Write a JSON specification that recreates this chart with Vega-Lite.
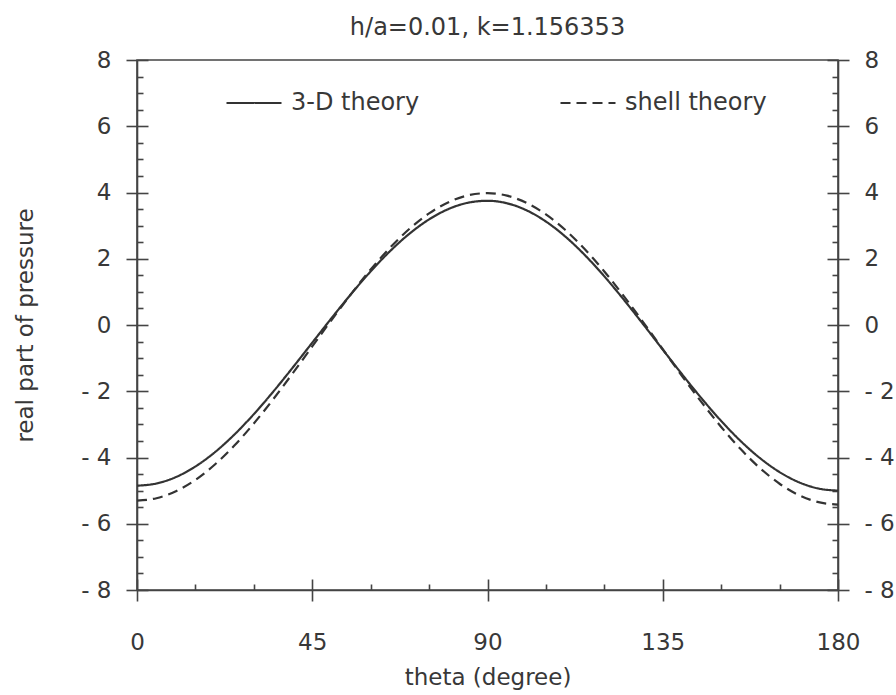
{
  "$schema": "https://vega.github.io/schema/vega-lite/v6.json",
  "autosize": {"type": "none"},
  "padding": {"left": 137, "top": 60, "right": 58, "bottom": 105},
  "width": 701,
  "height": 530,
  "background": "white",
  "title": {"text": "h/a=0.01, k=1.156353", "font": "DejaVu Sans", "fontSize": 24, "fontWeight": "normal", "color": "#383838", "anchor": "middle", "frame": "group", "baseline": "alphabetic", "offset": -10},
  "config": {
    "view": {"stroke": "#444", "strokeWidth": 1.6},
    "axis": {"labelFont": "DejaVu Sans", "titleFont": "DejaVu Sans", "labelColor": "#383838", "titleColor": "#383838", "domainColor": "#444", "tickColor": "#444", "domainWidth": 1.6, "tickWidth": 1.6, "grid": false, "titleFontWeight": "normal", "labelFontSize": 23, "titleFontSize": 23, "labelFlush": false, "labelOverlap": false}
  },
  "data": {"values": [
    {"theta": 0, "pressure": -4.85, "series": "3-D theory"},
    {"theta": 5, "pressure": -4.784, "series": "3-D theory"},
    {"theta": 10, "pressure": -4.59, "series": "3-D theory"},
    {"theta": 15, "pressure": -4.271, "series": "3-D theory"},
    {"theta": 20, "pressure": -3.84, "series": "3-D theory"},
    {"theta": 25, "pressure": -3.308, "series": "3-D theory"},
    {"theta": 30, "pressure": -2.691, "series": "3-D theory"},
    {"theta": 35, "pressure": -2.01, "series": "3-D theory"},
    {"theta": 40, "pressure": -1.283, "series": "3-D theory"},
    {"theta": 45, "pressure": -0.534, "series": "3-D theory"},
    {"theta": 50, "pressure": 0.214, "series": "3-D theory"},
    {"theta": 55, "pressure": 0.939, "series": "3-D theory"},
    {"theta": 60, "pressure": 1.619, "series": "3-D theory"},
    {"theta": 65, "pressure": 2.232, "series": "3-D theory"},
    {"theta": 70, "pressure": 2.761, "series": "3-D theory"},
    {"theta": 75, "pressure": 3.188, "series": "3-D theory"},
    {"theta": 80, "pressure": 3.502, "series": "3-D theory"},
    {"theta": 85, "pressure": 3.691, "series": "3-D theory"},
    {"theta": 90, "pressure": 3.75, "series": "3-D theory"},
    {"theta": 95, "pressure": 3.675, "series": "3-D theory"},
    {"theta": 100, "pressure": 3.464, "series": "3-D theory"},
    {"theta": 105, "pressure": 3.124, "series": "3-D theory"},
    {"theta": 110, "pressure": 2.668, "series": "3-D theory"},
    {"theta": 115, "pressure": 2.11, "series": "3-D theory"},
    {"theta": 120, "pressure": 1.469, "series": "3-D theory"},
    {"theta": 125, "pressure": 0.765, "series": "3-D theory"},
    {"theta": 130, "pressure": 0.02, "series": "3-D theory"},
    {"theta": 135, "pressure": -0.741, "series": "3-D theory"},
    {"theta": 140, "pressure": -1.495, "series": "3-D theory"},
    {"theta": 145, "pressure": -2.22, "series": "3-D theory"},
    {"theta": 150, "pressure": -2.896, "series": "3-D theory"},
    {"theta": 155, "pressure": -3.503, "series": "3-D theory"},
    {"theta": 160, "pressure": -4.022, "series": "3-D theory"},
    {"theta": 165, "pressure": -4.441, "series": "3-D theory"},
    {"theta": 170, "pressure": -4.749, "series": "3-D theory"},
    {"theta": 175, "pressure": -4.937, "series": "3-D theory"},
    {"theta": 180, "pressure": -5.0, "series": "3-D theory"},
    {"theta": 0, "pressure": -5.3, "series": "shell theory"},
    {"theta": 5, "pressure": -5.229, "series": "shell theory"},
    {"theta": 10, "pressure": -5.019, "series": "shell theory"},
    {"theta": 15, "pressure": -4.676, "series": "shell theory"},
    {"theta": 20, "pressure": -4.211, "series": "shell theory"},
    {"theta": 25, "pressure": -3.638, "series": "shell theory"},
    {"theta": 30, "pressure": -2.973, "series": "shell theory"},
    {"theta": 35, "pressure": -2.238, "series": "shell theory"},
    {"theta": 40, "pressure": -1.455, "series": "shell theory"},
    {"theta": 45, "pressure": -0.648, "series": "shell theory"},
    {"theta": 50, "pressure": 0.159, "series": "shell theory"},
    {"theta": 55, "pressure": 0.941, "series": "shell theory"},
    {"theta": 60, "pressure": 1.675, "series": "shell theory"},
    {"theta": 65, "pressure": 2.337, "series": "shell theory"},
    {"theta": 70, "pressure": 2.908, "series": "shell theory"},
    {"theta": 75, "pressure": 3.37, "series": "shell theory"},
    {"theta": 80, "pressure": 3.709, "series": "shell theory"},
    {"theta": 85, "pressure": 3.914, "series": "shell theory"},
    {"theta": 90, "pressure": 3.98, "series": "shell theory"},
    {"theta": 95, "pressure": 3.904, "series": "shell theory"},
    {"theta": 100, "pressure": 3.688, "series": "shell theory"},
    {"theta": 105, "pressure": 3.339, "series": "shell theory"},
    {"theta": 110, "pressure": 2.867, "series": "shell theory"},
    {"theta": 115, "pressure": 2.287, "series": "shell theory"},
    {"theta": 120, "pressure": 1.615, "series": "shell theory"},
    {"theta": 125, "pressure": 0.873, "series": "shell theory"},
    {"theta": 130, "pressure": 0.082, "series": "shell theory"},
    {"theta": 135, "pressure": -0.732, "series": "shell theory"},
    {"theta": 140, "pressure": -1.547, "series": "shell theory"},
    {"theta": 145, "pressure": -2.336, "series": "shell theory"},
    {"theta": 150, "pressure": -3.077, "series": "shell theory"},
    {"theta": 155, "pressure": -3.746, "series": "shell theory"},
    {"theta": 160, "pressure": -4.324, "series": "shell theory"},
    {"theta": 165, "pressure": -4.792, "series": "shell theory"},
    {"theta": 170, "pressure": -5.138, "series": "shell theory"},
    {"theta": 175, "pressure": -5.349, "series": "shell theory"},
    {"theta": 180, "pressure": -5.42, "series": "shell theory"}
  ]},
  "layer": [
    {
      "mark": {"type": "line", "color": "#333", "strokeWidth": 2.2, "interpolate": "monotone"},
      "encoding": {
        "x": {"field": "theta", "type": "quantitative", "scale": {"domain": [0, 180], "nice": false, "zero": false},
              "axis": {"orient": "bottom", "values": [0, 45, 90, 135, 180], "tickSize": 11, "labelPadding": 30, "title": "theta (degree)", "titlePadding": 12, "domain": true}},
        "y": {"field": "pressure", "type": "quantitative", "scale": {"domain": [-8, 8], "nice": false, "zero": false},
              "axis": {"orient": "left", "values": [-8, -6, -4, -2, 0, 2, 4, 6, 8], "tickSize": 11, "labelPadding": 15, "labelExpr": "datum.value < 0 ? '- ' + (-datum.value) : datum.label", "title": "real part of pressure", "titlePadding": 43, "domain": true}},
        "strokeDash": {"field": "series", "type": "nominal",
                       "scale": {"domain": ["3-D theory", "shell theory"], "range": [[1, 0], [10, 6]]},
                       "legend": {"title": null, "orient": "none", "legendX": 88, "legendY": 14, "direction": "horizontal", "symbolType": "stroke", "symbolSize": 3025, "symbolStrokeWidth": 2.2, "symbolStrokeColor": "#333", "labelFont": "DejaVu Sans", "labelFontSize": 24, "labelColor": "#383838", "labelOffset": 8, "columnPadding": 136, "padding": 0}}
      }
    },
    {
      "mark": {"type": "line", "opacity": 0},
      "encoding": {
        "x": {"field": "theta", "type": "quantitative",
              "axis": {"orient": "bottom", "values": [0, 15, 30, 45, 60, 75, 90, 105, 120, 135, 150, 165, 180], "tickSize": {"condition": {"test": "datum.value % 45 === 0", "value": -11}, "value": -6}, "labels": false, "domain": false, "title": null}},
        "y": {"field": "pressure", "type": "quantitative",
              "axis": {"orient": "left", "values": [-8, -7.5, -7, -6.5, -6, -5.5, -5, -4.5, -4, -3.5, -3, -2.5, -2, -1.5, -1, -0.5, 0, 0.5, 1, 1.5, 2, 2.5, 3, 3.5, 4, 4.5, 5, 5.5, 6, 6.5, 7, 7.5, 8], "tickSize": {"condition": {"test": "datum.value % 2 === 0", "value": -11}, "value": -6}, "labels": false, "domain": false, "title": null}}
      }
    },
    {
      "mark": {"type": "line", "opacity": 0},
      "encoding": {
        "x": {"field": "theta", "type": "quantitative", "axis": null},
        "y": {"field": "pressure", "type": "quantitative",
              "axis": {"orient": "right", "values": [-8, -6, -4, -2, 0, 2, 4, 6, 8], "tickSize": 11, "labelPadding": 15, "labelExpr": "datum.value < 0 ? '- ' + (-datum.value) : datum.label", "title": null, "domain": true}}
      }
    },
    {
      "mark": {"type": "line", "opacity": 0},
      "encoding": {
        "x": {"field": "theta", "type": "quantitative", "axis": null},
        "y": {"field": "pressure", "type": "quantitative",
              "axis": {"orient": "right", "values": [-8, -7.5, -7, -6.5, -6, -5.5, -5, -4.5, -4, -3.5, -3, -2.5, -2, -1.5, -1, -0.5, 0, 0.5, 1, 1.5, 2, 2.5, 3, 3.5, 4, 4.5, 5, 5.5, 6, 6.5, 7, 7.5, 8], "tickSize": {"condition": {"test": "datum.value % 2 === 0", "value": -11}, "value": -6}, "labels": false, "domain": false, "title": null}}
      }
    }
  ],
  "resolve": {"axis": {"x": "independent", "y": "independent"}}
}
